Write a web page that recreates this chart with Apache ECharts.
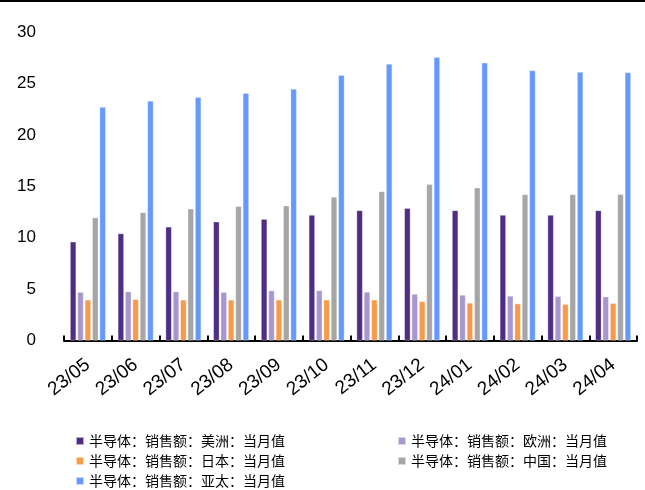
<!DOCTYPE html>
<html><head><meta charset="utf-8">
<script src="https://cdn.jsdelivr.net/npm/echarts@6/dist/echarts.min.js"></script>
<style>html,body{margin:0;padding:0;background:#fff}#c{width:645px;height:490px}</style>
</head><body><div id="c"></div>
<script>
const categories = ['23/05','23/06','23/07','23/08','23/09','23/10','23/11','23/12','24/01','24/02','24/03','24/04'];
const americas = [9.6,10.4,11.05,11.55,11.8,12.2,12.65,12.85,12.65,12.2,12.2,12.65];
const europe   = [4.7,4.75,4.75,4.7,4.85,4.87,4.72,4.52,4.42,4.33,4.3,4.26];
const japan    = [3.95,4.0,3.95,3.95,3.95,3.95,3.95,3.8,3.65,3.58,3.52,3.62];
const china    = [11.95,12.45,12.8,13.05,13.1,13.95,14.5,15.2,14.85,14.2,14.2,14.22];
const asiaPac  = [22.7,23.3,23.65,24.05,24.45,25.8,26.9,27.55,27.0,26.25,26.1,26.05];
const yTicks = {min:0, max:30, interval:5};
const names = ['半导体：销售额：美洲：当月值','半导体：销售额：欧洲：当月值','半导体：销售额：日本：当月值','半导体：销售额：中国：当月值','半导体：销售额：亚太：当月值'];
const colors = ['#4F2D84','#A797CE','#F89A48','#A6A6A6','#6699FF'];
const values = [americas, europe, japan, china, asiaPac];

const chart = echarts.init(document.getElementById('c'), null, {renderer:'canvas'});
const legendText = {fontFamily:'"Noto Sans CJK SC"', fontSize:14, color:'#000'};
// legend layout: [left, top] for each series
const legendPos = [[75,434],[397,434],[75,454],[397,454],[75,474]];
chart.setOption({
  animation:false,
  color: colors,
  graphic:[{type:'rect', shape:{x:0,y:0,width:645,height:2}, style:{fill:'#000'}}],
  grid:{left:64, right:8, top:32, bottom:149.5, containLabel:false},
  legend: names.map((n,i)=>({
    left:legendPos[i][0], top:legendPos[i][1], itemWidth:8, itemHeight:8, icon:'rect',
    data:[n], textStyle:legendText, padding:0
  })),
  xAxis:{type:'category', data:categories,
    axisLine:{lineStyle:{color:'#000', width:2}},
    axisTick:{show:true, inside:true, length:5, lineStyle:{color:'#000', width:2}},
    axisLabel:{rotate:38, color:'#000', fontSize:19, fontFamily:'"Liberation Sans"', margin:22, interval:0}
  },
  yAxis:{type:'value', min:yTicks.min, max:yTicks.max, interval:yTicks.interval,
    axisLine:{show:false}, axisTick:{show:false}, splitLine:{show:false},
    axisLabel:{color:'#000', fontSize:17, fontFamily:'"Liberation Sans"', margin:28}
  },
  series: values.map((v,i)=>({
    name:names[i], type:'bar', data:v, barWidth:6, barGap:'23%',
    itemStyle:{color:colors[i], borderColor:'rgba(255,255,255,0.6)', borderWidth:0.5}
  }))
});
</script></body></html>
